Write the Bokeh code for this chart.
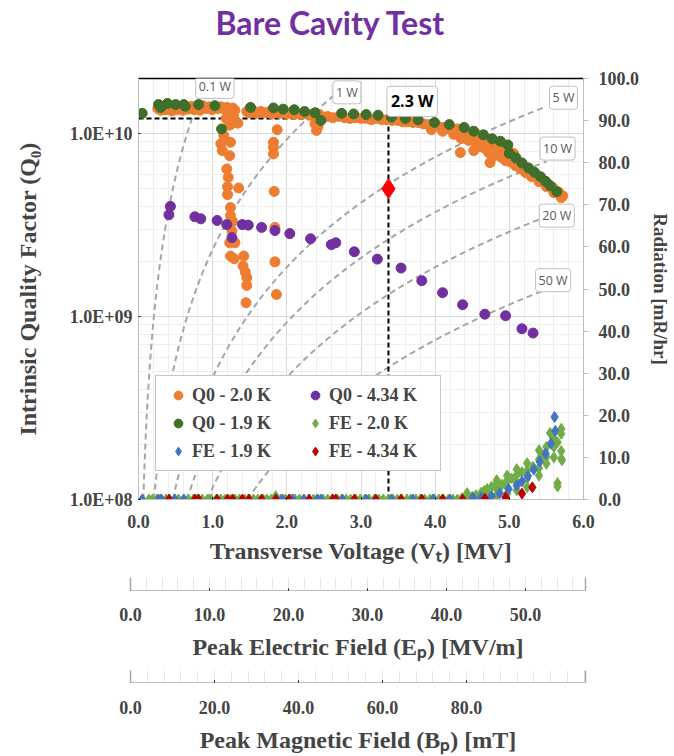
import numpy as np
from bokeh.plotting import figure
from bokeh.layouts import column, row
from bokeh.models import (Range1d, LinearAxis, LinearScale, FixedTicker, SingleIntervalTicker, Spacer,
                          NumeralTickFormatter, CustomJSTickFormatter, Legend, LegendItem, Label)
from bokeh.embed import file_html
from bokeh.resources import INLINE

SERIF = "Liberation Serif"

# ---------------- data ----------------
# Q0 - 2.0 K  (transverse voltage MV, Q0)
q20_v = [0.26, 0.30, 0.33, 0.37, 0.41, 0.45, 0.48, 0.52, 0.56, 0.60, 0.63, 0.67, 0.71, 0.75, 0.79, 0.83,
         0.87, 0.91, 0.95, 0.99, 1.03, 1.07, 1.11, 1.15, 1.19, 1.23, 1.27, 1.30, 1.22, 1.28, 1.25,
         1.23, 1.34, 1.15, 1.24, 1.11, 1.13, 1.23, 1.19, 1.21, 1.20, 1.35, 1.20, 1.24, 1.24, 1.27, 1.26,
         1.23, 1.30, 1.24, 1.29, 1.42, 1.41, 1.44, 1.46, 1.46, 1.45, 1.18,
         1.87, 1.82, 1.82, 1.82, 1.83, 1.84, 1.84, 1.86,
         2.40, 2.38, 2.42,
         1.46, 1.50, 1.55, 1.60, 1.65, 1.70, 1.75, 1.80, 1.85, 1.90, 1.95, 2.00, 2.05, 2.10, 2.15, 2.20,
         2.25, 2.30, 2.35, 2.40, 2.44,
         2.55, 2.62, 2.70, 2.78, 2.85, 2.92, 3.00, 3.07, 3.14, 3.21, 3.28, 3.35, 3.42, 3.49, 3.56, 3.63,
         3.70, 3.77, 3.84, 3.91, 3.98, 4.05, 4.12, 4.19, 4.26, 4.33, 4.40, 4.47, 4.54, 4.61, 4.68, 4.75,
         4.82, 4.89, 4.96, 5.03, 5.10, 5.17, 5.24, 5.31, 5.38, 5.45, 5.52, 5.59, 5.66, 5.72,
         3.95, 4.10, 4.25, 4.35, 4.45, 4.55, 4.65, 4.72, 4.80, 4.90, 5.00, 5.08, 5.15, 5.22, 5.30, 5.40,
         5.50, 5.60, 5.70,
         4.30, 4.42, 4.55, 4.68, 4.78, 4.88, 4.98, 5.06,
         4.34, 4.52, 4.74, 4.60, 4.95]
q20_q = [1.37e10, 1.34e10, 1.40e10, 1.35e10, 1.38e10, 1.33e10, 1.39e10, 1.35e10, 1.40e10, 1.34e10, 1.38e10,
         1.36e10, 1.41e10, 1.35e10, 1.39e10, 1.34e10, 1.42e10, 1.37e10, 1.40e10, 1.35e10, 1.41e10, 1.37e10,
         1.40e10, 1.36e10, 1.39e10, 1.35e10, 1.38e10, 1.34e10, 1.28e10, 1.26e10, 1.21e10,
         1.11e10, 1.14e10, 9.75e9, 8.96e9, 8.79e9, 8.07e9, 7.57e9, 6.41e9, 5.76e9, 5.12e9, 5.04e9, 4.64e9,
         3.94e9, 3.56e9, 3.31e9, 2.94e9, 2.53e9, 2.53e9, 2.14e9, 2.07e9, 2.14e9, 1.89e9, 1.75e9, 1.63e9,
         1.48e9, 1.19e9, 1.21e10,
         1.05e10, 8.96e9, 8.41e9, 7.74e9, 4.83e9, 3.07e9, 1.99e9, 1.32e9,
         1.04e10, 1.13e10, 1.09e10,
         1.32e10, 1.30e10, 1.33e10, 1.29e10, 1.32e10, 1.30e10, 1.31e10, 1.28e10, 1.31e10, 1.29e10, 1.30e10,
         1.28e10, 1.30e10, 1.27e10, 1.29e10, 1.27e10, 1.29e10, 1.26e10, 1.28e10, 1.25e10, 1.27e10,
         1.24e10, 1.22e10, 1.24e10, 1.22e10, 1.21e10, 1.22e10, 1.21e10, 1.21e10, 1.19e10, 1.21e10, 1.19e10,
         1.19e10, 1.18e10, 1.18e10, 1.16e10, 1.16e10, 1.15e10, 1.15e10, 1.13e10, 1.12e10, 1.11e10, 1.09e10,
         1.08e10, 1.06e10, 1.04e10, 1.03e10, 1.00e10, 9.75e9, 9.51e9, 9.27e9, 8.93e9, 8.71e9, 8.38e9,
         8.07e9, 7.77e9, 7.48e9, 7.11e9, 6.85e9, 6.52e9, 6.19e9, 5.89e9, 5.60e9, 5.32e9, 5.06e9, 4.81e9,
         4.57e9,
         1.05e10, 1.03e10, 9.90e9, 9.39e9, 9.16e9, 8.82e9, 8.38e9, 7.87e9, 7.57e9, 7.38e9, 7.03e9, 6.68e9,
         6.43e9, 6.11e9, 5.81e9, 5.46e9, 5.12e9, 4.75e9, 4.46e9,
         1.06e10, 1.04e10, 1.00e10, 9.51e9, 9.04e9, 8.60e9, 8.17e9, 7.77e9,
         7.87e9, 8.07e9, 6.94e9, 8.49e9, 7.11e9]

# Q0 - 4.34 K
q434_v = [0.43, 0.41, 0.76, 0.84, 1.06, 1.19, 1.26, 1.40, 1.48, 1.66, 1.84, 2.04, 2.32, 2.60, 2.66,
          2.91, 3.22, 3.54, 3.82, 4.10, 4.37, 4.67, 4.95, 5.17, 5.32]
q434_q = [4.00e9, 3.60e9, 3.51e9, 3.42e9, 3.35e9, 3.18e9, 2.70e9, 3.18e9, 3.16e9, 3.07e9, 2.95e9, 2.84e9,
          2.66e9, 2.47e9, 2.53e9, 2.26e9, 2.06e9, 1.84e9, 1.57e9, 1.35e9, 1.16e9, 1.03e9, 1.01e9, 8.57e8,
          8.12e8]

# Q0 - 1.9 K
q19_v = [0.05, 0.27, 0.30, 0.39, 0.50, 0.61, 0.63, 0.81, 1.03, 1.12, 1.51, 1.82, 1.95, 2.10, 2.24, 2.38,
         2.46, 2.74, 2.90, 3.07, 3.23, 3.41, 3.60, 3.77, 3.99, 4.19, 4.39, 4.52, 4.65, 4.77, 4.88, 4.98,
         5.00, 5.09, 5.17, 5.26, 5.34, 5.42, 5.49, 5.55, 5.64]
q19_q = [1.29e10, 1.44e10, 1.39e10, 1.46e10, 1.44e10, 1.44e10, 1.41e10, 1.44e10, 1.42e10, 1.06e10, 1.39e10,
         1.38e10, 1.36e10, 1.35e10, 1.32e10, 1.30e10, 1.18e10, 1.29e10, 1.28e10, 1.27e10, 1.26e10, 1.23e10,
         1.21e10, 1.19e10, 1.15e10, 1.12e10, 1.08e10, 1.03e10, 9.84e9, 9.36e9, 9.08e9, 8.67e9, 7.80e9,
         7.36e9, 6.91e9, 6.48e9, 6.14e9, 5.81e9, 5.48e9, 5.19e9, 4.81e9]

# FE - 2.0 K (radiation mR/hr)
fe20_v = [0.14, 0.19, 0.25, 0.30, 0.37, 0.42, 0.49, 0.54, 0.61, 0.67, 0.74, 0.79, 0.86, 0.93, 0.98, 1.05,
          1.11, 1.17, 1.24, 1.30, 1.36, 1.43, 1.48, 1.55, 1.61, 1.68, 1.73, 1.79, 1.85, 1.92, 1.98, 2.05,
          2.11, 2.17, 2.23, 2.30, 2.36, 2.42, 2.49, 2.55, 2.61, 2.68, 2.74, 2.80, 2.86, 2.93, 2.99, 3.05,
          3.11, 3.18, 3.24, 3.30, 3.37, 3.43, 3.49, 3.55, 3.62, 3.67, 3.74, 3.80, 3.86, 3.93, 3.99, 4.05,
          4.11, 4.18, 4.24, 4.30,
          4.36, 4.43, 4.43, 4.43, 4.50, 4.55, 4.55, 4.62, 4.66, 4.70, 4.70, 4.70, 4.76, 4.83, 4.83, 4.83,
          4.83, 4.90, 4.97, 4.97, 4.97, 4.97, 5.03, 5.10, 5.10, 5.10, 5.10, 5.17, 5.24, 5.24, 5.24, 5.24,
          5.32, 5.40, 5.40, 5.40, 5.40, 5.46, 5.50, 5.50, 5.50, 5.55, 5.60, 5.60, 5.60, 5.65, 5.65, 5.65,
          5.70, 5.70, 5.70, 5.70, 5.71]
fe20_r = [0.0] * 28 + [0.8] + [0.0] * 39 + \
         [0.3, 0.0, 0.8, 1.5, 0.6, 0.3, 1.0, 1.6, 2.0, 0.5, 1.5, 2.5, 3.0, 1.0, 2.5, 3.8,
          4.6, 3.5, 1.4, 3.0, 4.5, 5.7, 5.0, 2.2, 4.0, 5.8, 7.2, 6.5, 2.9, 5.0, 6.8, 8.6,
          7.8, 5.7, 7.5, 9.5, 11.7, 10.5, 8.5, 10.1, 12.5, 15.8, 10.0, 12.5, 14.5, 13.6, 3.9, 3.1,
          16.8, 15.6, 11.5, 9.7, 9.3]

# FE - 1.9 K
fe19_v = [0.05, 0.27, 0.31, 0.49, 0.61, 1.86, 1.94, 2.08, 2.23, 2.41, 2.46, 2.75, 3.07, 3.41, 3.70, 3.97,
          4.20, 4.51, 4.62, 4.76, 4.87, 4.99, 5.10, 5.17, 5.25, 5.33, 5.41, 5.49, 5.56, 5.62, 5.61]
fe19_r = [0.0] * 17 + [0.4, 0.5, 0.8, 1.5, 2.5, 3.3, 4.3, 5.6, 7.1, 9.0, 10.9, 13.3, 16.3, 19.6]

# FE - 4.34 K
fe434_v = [0.41, 0.76, 0.81, 1.06, 1.20, 1.27, 1.40, 1.49, 1.66, 1.85, 2.03, 2.30, 2.62, 2.66, 2.91, 3.20,
           3.54, 3.82, 4.10, 4.37, 4.67, 4.95, 5.17, 5.31]
fe434_r = [0.0] * 20 + [0.2, 0.5, 1.4, 2.9]

# operating point (2.3 W) and target marker
op_v = [3.37]
op_q = [1.21e10]
target_v = [3.37]
target_q = [5.0e9]

# constant-power curves: Q0 = Vt^2 / ((R/Q) * P)
rq_ohm = 430.0
power_w = [0.1, 1, 5, 10, 20, 50]
power_vmax = [0.85, 2.62, 5.50, 5.50, 5.50, 5.45]
power_labels = ["0.1 W", "1 W", "5 W", "10 W", "20 W", "50 W"]

series_names = ["Q0 - 2.0 K", "Q0 - 4.34 K", "Q0 - 1.9 K", "FE - 2.0 K", "FE - 1.9 K", "FE - 4.34 K"]

ep_ticks = [0, 10, 20, 30, 40, 50]
bp_ticks = [0, 20, 40, 60, 80]

# ---------------- main figure ----------------
W = 674
SHIFT = 8          # main chart sits 8 px to the right of the secondary axes
p = figure(width=W - SHIFT, height=572, x_range=Range1d(0, 6), y_range=Range1d(1e8, 2e10), y_axis_type="log",
           output_backend="svg", toolbar_location=None,
           min_border_left=130, min_border_right=91, min_border_top=78, min_border_bottom=73)
p.outline_line_color = None
p.background_fill_color = "white"

p.title.text = "Bare Cavity Test"
p.title.text_font = "Lato"
p.title.text_font_size = "32px"
p.title.text_font_style = "bold"
p.title.text_color = "#7030A0"
p.title.align = "left"
p.title.offset = 77
p.title.standoff = 0

# x axis
xa = p.xaxis[0]
xa.ticker = SingleIntervalTicker(interval=1, num_minor_ticks=5)
xa.formatter = NumeralTickFormatter(format="0.0")
xa.axis_label = "Transverse Voltage (Vₜ) [MV]"
xa.axis_label_text_font = SERIF
xa.axis_label_text_font_style = "bold"
xa.axis_label_text_font_size = "24px"
xa.axis_label_standoff = 7
xa.major_label_text_font = SERIF
xa.major_label_text_font_style = "bold"
xa.major_label_text_font_size = "18px"
xa.major_label_standoff = 15
xa.axis_line_color = "#BFBFBF"
xa.major_tick_out = 0
xa.minor_tick_out = 0

# left log axis
ya = p.yaxis[0]
ya.ticker = FixedTicker(ticks=[1e8, 1e9, 1e10],
                        minor_ticks=[2e8, 3e8, 4e8, 5e8, 6e8, 7e8, 8e8, 9e8,
                                     2e9, 3e9, 4e9, 5e9, 6e9, 7e9, 8e9, 9e9])
ya.formatter = CustomJSTickFormatter(code="""
const e = Math.round(Math.log10(tick));
return "1.0E+" + (e < 10 ? "0" : "") + e;
""")
ya.axis_label = "Intrinsic Quality Factor (Q₀)"
ya.axis_label_text_font = SERIF
ya.axis_label_text_font_style = "bold"
ya.axis_label_text_font_size = "24px"
ya.axis_label_standoff = 26
ya.major_label_text_font = SERIF
ya.major_label_text_font_style = "bold"
ya.major_label_text_font_size = "18px"
ya.major_label_standoff = 6
ya.axis_line_color = "#BFBFBF"
ya.major_tick_out = 0
ya.minor_tick_out = 0

p.xgrid.grid_line_color = "#D9D9D9"
p.xgrid.minor_grid_line_color = "#EEEEEE"
p.ygrid.grid_line_color = "#D9D9D9"
p.ygrid.minor_grid_line_color = "#EEEEEE"

# right radiation axis (linear)
p.extra_y_ranges = {"rad": Range1d(0, 100)}
p.extra_y_scales = {"rad": LinearScale()}
ra = LinearAxis(y_range_name="rad", ticker=SingleIntervalTicker(interval=10),
                formatter=NumeralTickFormatter(format="0.0"))
ra.axis_label = "Radiation [mR/hr]"
ra.axis_label_text_font = SERIF
ra.axis_label_text_font_style = "bold"
ra.axis_label_text_font_size = "19px"
ra.axis_label_standoff = 8
ra.major_label_text_font = SERIF
ra.major_label_text_font_style = "bold"
ra.major_label_text_font_size = "18px"
ra.major_label_standoff = 10
ra.axis_line_color = "#BFBFBF"
ra.major_tick_line_color = "#BFBFBF"
ra.major_tick_out = 5
ra.major_tick_in = 0
ra.minor_tick_out = 0
p.add_layout(ra, "right")

# top border line; its blank axis label reserves the gap between title and frame
ta = LinearAxis(ticker=FixedTicker(ticks=[]), axis_line_color="black", axis_line_width=1.5,
                major_label_text_font_size="0px", major_tick_out=0, major_tick_in=0,
                major_label_standoff=0, axis_label=" ", axis_label_text_font_size="12px",
                axis_label_standoff=20)
p.add_layout(ta, "above")

# constant-power curves and their labels
label_pos = [(1.03, 1.80e10), (2.81, 1.68e10), (5.73, 1.57e10), (5.65, 8.28e9), (5.64, 3.56e9), (5.59, 1.58e9)]
for pw, vmax, txt, (lx, ly) in zip(power_w, power_vmax, power_labels, label_pos):
    vmin = np.sqrt(rq_ohm * pw * 1e8) / 1e6
    vv = np.linspace(vmin, vmax, 120)
    qq = (vv * 1e6) ** 2 / (rq_ohm * pw)
    p.line(vv, qq, line_color="#A6A6A6", line_width=2, line_dash="6 4")
    p.add_layout(Label(x=lx, y=ly, text=txt, text_font="Open Sans", text_font_size="12.5px",
                       text_color="#595959", text_align="center", text_baseline="middle",
                       background_fill_color="white", border_line_color="#BFBFBF",
                       border_radius=3, padding=3))

# operating point dashed lines
p.line([0, op_v[0]], [op_q[0], op_q[0]], line_color="black", line_width=2, line_dash="5 3")
p.line([op_v[0], op_v[0]], [op_q[0], 1e8], line_color="black", line_width=2, line_dash="5 3")
p.add_layout(Label(x=3.69, y=1.50e10, text="2.3 W", text_font="Open Sans", text_font_size="16px",
                   text_font_style="bold", text_color="black", text_align="center", text_baseline="middle",
                   background_fill_color="white", border_line_color="#BFBFBF", border_radius=3, padding=4))

# Q0 series
r_q20 = p.scatter(q20_v, q20_q, marker="circle", size=10, fill_color="#ED7D31", line_color="#ED7D31")
r_q434 = p.scatter(q434_v, q434_q, marker="circle", size=10, fill_color="#7030A0", line_color="#7030A0")
r_q19 = p.scatter(q19_v, q19_q, marker="circle", size=10, fill_color="#3F6F2A", line_color="#3F6F2A")
p.scatter(target_v, target_q, marker="diamond", size=20, fill_color="#FF0000", line_color="#FF0000")

# FE series (right axis)
r_fe20 = p.scatter(fe20_v, fe20_r, y_range_name="rad", marker="diamond", size=11,
                   fill_color="#70AD47", line_color="#70AD47")
r_fe19 = p.scatter(fe19_v, fe19_r, y_range_name="rad", marker="diamond", size=11,
                   fill_color="#4472C4", line_color="#4472C4")
r_fe434 = p.scatter(fe434_v, fe434_r, y_range_name="rad", marker="diamond", size=11,
                    fill_color="#C00000", line_color="#C00000")

renderers = [r_q20, r_q434, r_q19, r_fe20, r_fe19, r_fe434]
legend = Legend(items=[LegendItem(label=n, renderers=[r]) for n, r in zip(series_names, renderers)],
                location=(17, 28), orientation="horizontal", ncols=2,
                label_text_font=SERIF, label_text_font_style="bold", label_text_font_size="18px",
                border_line_color="#7F9A65", border_line_width=1.5, background_fill_color="white",
                background_fill_alpha=1, glyph_width=28, glyph_height=22, label_standoff=0,
                label_width=103, label_height=22, spacing=6, padding=8, margin=0)
p.add_layout(legend, "center")


# ---------------- secondary axes ----------------
def extra_axis(xmax, ticks, label, top, bottom, lab_standoff):
    f = figure(width=W, height=top + 13 + bottom, x_range=Range1d(0, xmax), y_range=Range1d(0, 1),
               output_backend="svg", toolbar_location=None,
               min_border_left=130, min_border_right=W - 130 - 455, min_border_top=top, min_border_bottom=bottom)
    f.outline_line_color = None
    f.yaxis.visible = False
    ax = f.xaxis[0]
    step = ticks[1] - ticks[0]
    ax.ticker = FixedTicker(ticks=ticks, minor_ticks=[i * step / 5 for i in range(1, int(xmax / (step / 5)) + 1)])
    ax.formatter = NumeralTickFormatter(format="0.0")
    ax.axis_label = label
    ax.axis_label_text_font = SERIF
    ax.axis_label_text_font_style = "bold"
    ax.axis_label_text_font_size = "24px"
    ax.axis_label_standoff = 10
    ax.major_label_text_font = SERIF
    ax.major_label_text_font_style = "bold"
    ax.major_label_text_font_size = "18px"
    ax.major_label_standoff = lab_standoff
    ax.axis_line_color = "#BFBFBF"
    ax.major_tick_out = 0
    ax.minor_tick_out = 0
    f.xgrid.grid_line_color = "#E6E6E6"
    f.xgrid.minor_grid_line_color = "#E6E6E6"
    f.ygrid.grid_line_color = None
    for side in ("left", "right"):
        edge = LinearAxis(ticker=FixedTicker(ticks=[]), axis_line_color="#A6A6A6", axis_line_width=1.5,
                          major_label_text_font_size="0px", major_tick_out=0, major_label_standoff=0)
        f.add_layout(edge, side)
    return f


p_ep = extra_axis(57.6, ep_ticks, "Peak Electric Field (Eₚ) [MV/m]", 5, 74, 17)
p_bp = extra_axis(108.3, bp_ticks, "Peak Magnetic Field (Bₚ) [mT]", 6, 72, 18)

layout = column(row(Spacer(width=SHIFT, height=10), p, spacing=0), p_ep, p_bp, spacing=0)
open("out.html", "w").write(file_html(layout, INLINE))
